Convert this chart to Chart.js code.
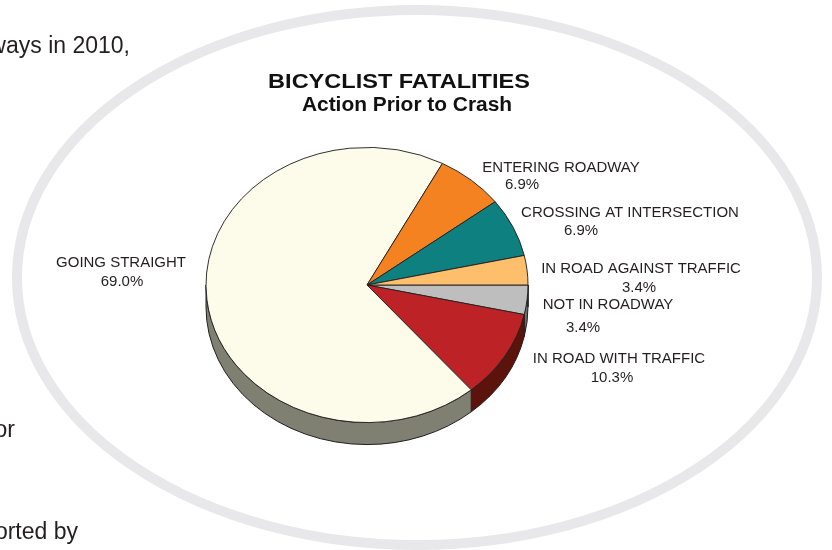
<!DOCTYPE html>
<html>
<head>
<meta charset="utf-8">
<script src="https://cdn.jsdelivr.net/npm/chart.js@4/dist/chart.umd.min.js"></script>
<style>
html,body{margin:0;padding:0;background:#fff;}
#wrap{position:relative;width:832px;height:550px;}
</style>
</head>
<body>
<div id="wrap"><canvas id="c" width="832" height="550"></canvas></div>
<script>
// ---- data ----
const categories = ['NOT IN ROADWAY','IN ROAD WITH TRAFFIC','GOING STRAIGHT','ENTERING ROADWAY','CROSSING AT INTERSECTION','IN ROAD AGAINST TRAFFIC'];
const fatalities = [1, 3, 20, 2, 2, 1];
const chartTitle = 'BICYCLIST FATALITIES';
const chartSubtitle = 'Action Prior to Crash';
const sideTexts = ['ways in 2010,', 'or', 'orted by'];

// ---- styles / layout ----
const sliceColors = ['#bebebe','#bd2326','#fdfbea','#f58220','#0f8080','#fdbf6b'];
const sideColors  = ['#6f6f6f','#5b130c','#7f7f72','#8a4a12','#0a4a4a','#8a6a3a'];
const labelPos = [
  {x:608, y:309, px:583, py:332},
  {x:619, y:363, px:612, py:382},
  {x:121, y:267, px:122, py:286},
  {x:561, y:172, px:522, py:189},
  {x:630, y:217, px:581, py:235},
  {x:641, y:273, px:639, py:292}
];
const sideTextPos = [{x:130,y:53},{x:15,y:437},{x:78,y:539}];
const TILT = 138/161.5;   // vertical squash of the pie
const DEPTH = 22;         // pie thickness in px
const INK = '#231f20';

function stretchText(ctx, text, x, y, sx) {
  ctx.save();
  ctx.translate(x, y);
  ctx.scale(sx, 1);
  ctx.fillText(text, 0, 0);
  ctx.restore();
}

const pie3d = {
  id: 'pie3d',
  beforeDraw(chart) {
    const ctx = chart.ctx;
    ctx.save();
    ctx.fillStyle = '#fff';
    ctx.fillRect(0, 0, chart.width, chart.height);
    // frame ellipse
    ctx.beginPath();
    ctx.ellipse(417, 277.5, 400, 267.5, 0, 0, Math.PI*2);
    ctx.strokeStyle = '#e8e8ea';
    ctx.lineWidth = 10;
    ctx.stroke();
    // cut-off body text on the left
    ctx.fillStyle = '#231f20';
    ctx.font = '23px "Liberation Sans", Arial, sans-serif';
    ctx.textAlign = 'right';
    ctx.textBaseline = 'alphabetic';
    sideTexts.forEach((t, i) => ctx.fillText(t, sideTextPos[i].x, sideTextPos[i].y));
    // titles
    ctx.textAlign = 'center';
    ctx.fillStyle = '#111';
    ctx.font = 'bold 21px "Liberation Sans", Arial, sans-serif';
    stretchText(ctx, chartTitle, 399, 88, 1.12);
    ctx.font = 'bold 20px "Liberation Sans", Arial, sans-serif';
    stretchText(ctx, chartSubtitle, 407, 111, 1.045);
    ctx.restore();
  },
  beforeDatasetsDraw(chart) {
    const ctx = chart.ctx;
    const meta = chart.getDatasetMeta(0);
    const a0 = meta.data[0];
    const cx = a0.x, cy = a0.y, rx = a0.outerRadius, ry = rx * TILT;
    ctx.save();
    ctx.lineWidth = 1;
    ctx.strokeStyle = INK;
    meta.data.forEach((arc, i) => {
      const s = arc.startAngle, e = arc.endAngle;
      [[0, Math.PI], [2*Math.PI, 3*Math.PI]].forEach(([lo, hi]) => {
        const a1 = Math.max(s, lo), a2 = Math.min(e, hi);
        if (a2 > a1) {
          ctx.beginPath();
          ctx.ellipse(cx, cy, rx, ry, 0, a1, a2);
          ctx.ellipse(cx, cy + DEPTH, rx, ry, 0, a2, a1, true);
          ctx.closePath();
          ctx.fillStyle = sideColors[i];
          ctx.fill();
          ctx.stroke();
        }
      });
    });
    ctx.restore();
    // squash the top face
    ctx.save();
    ctx.translate(0, cy * (1 - TILT));
    ctx.scale(1, TILT);
  },
  afterDatasetsDraw(chart) {
    const ctx = chart.ctx;
    ctx.restore();
    const total = fatalities.reduce((a, b) => a + b, 0);
    ctx.save();
    ctx.fillStyle = '#231f20';
    ctx.font = '14px "Liberation Sans", Arial, sans-serif';
    ctx.textAlign = 'center';
    ctx.textBaseline = 'alphabetic';
    categories.forEach((c, i) => {
      const p = labelPos[i];
      stretchText(ctx, c, p.x, p.y, 1.07);
      stretchText(ctx, (fatalities[i] / total * 100).toFixed(1) + '%', p.px, p.py, 1.07);
    });
    ctx.restore();
  }
};

new Chart(document.getElementById('c'), {
  type: 'pie',
  data: {
    labels: categories,
    datasets: [{
      data: fatalities,
      backgroundColor: sliceColors,
      borderColor: INK,
      borderWidth: 1
    }]
  },
  options: {
    responsive: false,
    animation: false,
    events: [],
    rotation: 90,
    layout: { padding: { left: 205.5, right: 303.5, top: 123.5, bottom: 103.5 } },
    plugins: { legend: { display: false }, title: { display: false }, tooltip: { enabled: false } }
  },
  plugins: [pie3d]
});
</script>
</body>
</html>
